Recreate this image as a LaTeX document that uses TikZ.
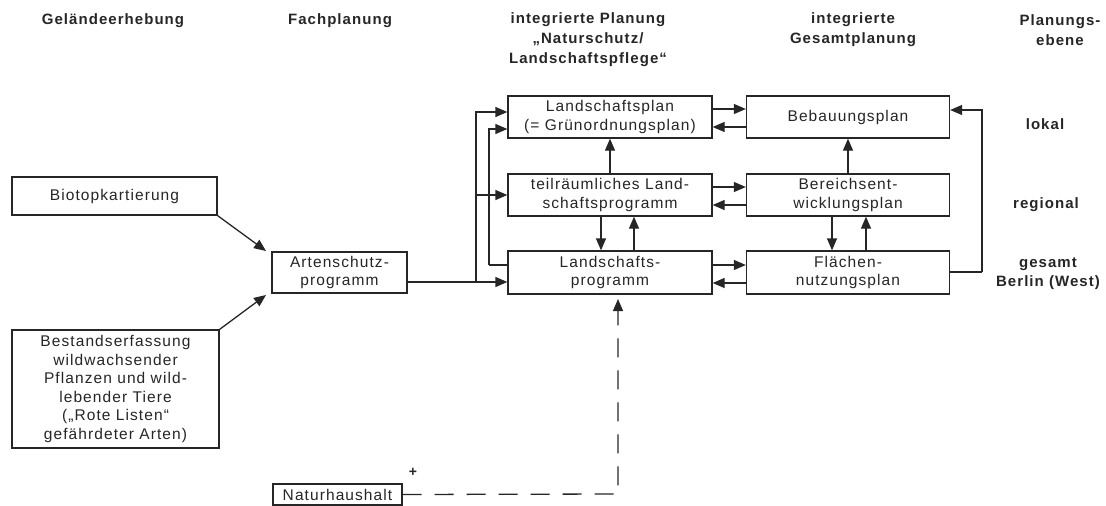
\documentclass[tikz,border=0pt]{standalone}
\usepackage{fontspec}
\setmainfont{Liberation Sans}[LetterSpace=7]
\usetikzlibrary{arrows.meta,calc}
\definecolor{ink}{HTML}{262626}
\begin{document}
\begin{tikzpicture}[x=1pt,y=-1pt,
  box/.style={draw=ink,line width=1.3pt,fill=white,align=center,inner sep=1pt,
    minimum width=204pt,minimum height=42pt,text=ink,
    font=\fontsize{15.5}{18.5}\selectfont},
  head/.style={align=center,text=ink,font=\fontsize{15}{20}\selectfont\bfseries},
  lvl/.style={align=center,text=ink,font=\fontsize{15}{19}\selectfont\bfseries},
  con/.style={draw=ink,line width=1.3pt},
  arr/.style={con,-{Triangle[length=12pt,width=10pt]}},
  dsh/.style={arr,dash pattern=on 19pt off 13pt}]
\useasboundingbox (0,0) rectangle (1106,506);

% column headings
\node[head] (h1) at (113,21) {Geländeerhebung};
\node[head] (h2) at (340,21) {Fachplanung};
\node[head] (h3) at (588,40) {integrierte Planung\\„Naturschutz/\\Landschaftspflege“};
\node[head] (h4) at (853,30) {integrierte\\Gesamtplanung};
\node[head] (h5) at (1060,30) {Planungs-\\ebene};

% planning levels
\node[lvl] (l1) at (1045,124) {lokal};
\node[lvl] (l2) at (1046,205) {regional};
\node[lvl] (l3) at (1048,274) {gesamt\\Berlin (West)};

% survey and specialist planning
\node[box,minimum width=205pt,minimum height=38pt] (bio) at (114.5,196) {Biotopkartierung};
\node[box,minimum width=207pt,minimum height=118pt] (best) at (115.5,389)
  {Bestandserfassung\\wildwachsender\\Pflanzen und wild-\\lebender Tiere\\(„Rote Listen“\\gefährdeter Arten)};
\node[box,minimum width=135pt,minimum height=41pt] (art) at (339.5,272.5) {Artenschutz-\\programm};
\node[box,minimum width=129pt,minimum height=21pt,inner sep=0pt] (nat) at (337.5,494.5) {Naturhaushalt};

% integrated landscape planning
\node[box] (lp)  at (610,117)   {Landschaftsplan\\(= Grünordnungsplan)};
\node[box] (tlp) at (610,195)   {teilräumliches Land-\\schaftsprogramm};
\node[box,minimum height=43pt] (lpr) at (610,272.5) {Landschafts-\\programm};

% integrated overall planning
\node[box,minimum width=203pt] (beb) at (848,117)   {Bebauungsplan};
\node[box,minimum width=203pt] (ber) at (848,195)   {Bereichsent-\\wicklungsplan};
\node[box,minimum width=203pt,minimum height=43pt] (fl) at (848,272.5) {Flächen-\\nutzungsplan};

% inputs to the species protection programme
\coordinate (a1) at (266,251);
\coordinate (a2) at (266,295);
\draw[arr] (bio.south east) -- (a1);
\draw[arr] (best.north east) -- (a2);

% species protection programme feeds the landscape plans
\coordinate (j1) at (476,282);
\draw[arr] (art.east |- j1) -- (lpr.west |- j1);
\draw[arr] (j1) |- (lp.west |- 0,112);
\draw[arr] (j1 |- tlp.west) -- (tlp.west);
\coordinate (j2) at (489,265);
\draw[con] (lpr.west |- j2) -- (j2);
\draw[arr] (j2) |- (lp.west |- 0,129);

% exchange between the two planning columns
\draw[arr] (lp.east |- 0,109) -- (beb.west |- 0,109);
\draw[arr] (beb.west |- 0,127) -- (lp.east |- 0,127);
\draw[arr] (tlp.east |- 0,187) -- (ber.west |- 0,187);
\draw[arr] (ber.west |- 0,205) -- (tlp.east |- 0,205);
\draw[arr] (lpr.east |- 0,265) -- (fl.west |- 0,265);
\draw[arr] (fl.west |- 0,283) -- (lpr.east |- 0,283);

% vertical links between levels
\draw[arr] (tlp.north) -- (lp.south);
\draw[arr] (tlp.south -| 601,0) -- (lpr.north -| 601,0);
\draw[arr] (lpr.north -| 634,0) -- (tlp.south -| 634,0);
\draw[arr] (ber.north) -- (beb.south);
\draw[arr] (ber.south -| 832,0) -- (fl.north -| 832,0);
\draw[arr] (fl.north -| 866,0) -- (ber.south -| 866,0);
\coordinate (r1) at (982,272);
\draw[con] (fl.east |- r1) -- (r1);
\draw[arr] (r1) |- (beb.east |- 0,110);

% natural balance (dashed)
\coordinate (d1) at (618,494);
\coordinate (d2) at (618,299);
\draw[dsh] (nat.east) -- (d1) -- (d2);
\node[text=ink,font=\fontsize{14}{14}\selectfont\bfseries] (plus) at (413,472) {+};
\end{tikzpicture}
\end{document}
